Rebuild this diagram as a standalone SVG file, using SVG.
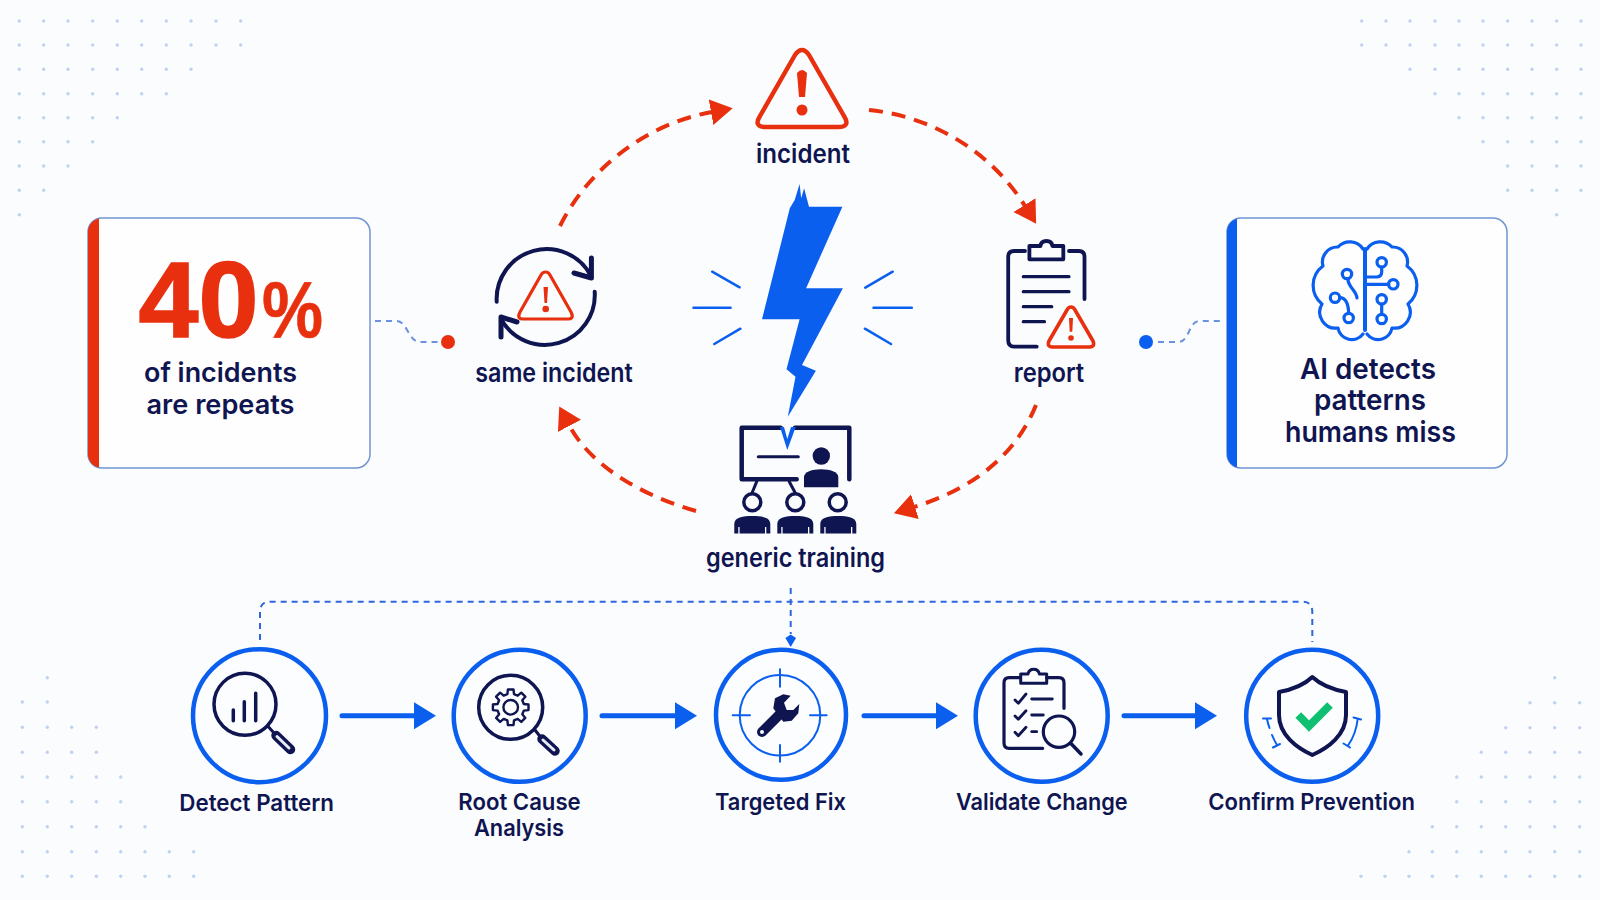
<svg xmlns="http://www.w3.org/2000/svg" xmlns:xlink="http://www.w3.org/1999/xlink" width="1600" height="900" viewBox="0 0 1600 900">
<defs>
<style>
.t{font-family:"Inter","Liberation Sans",sans-serif;font-weight:600;fill:#0f1550;text-anchor:middle}
.ts{font-family:"Inter","Liberation Sans",sans-serif;font-weight:600;fill:#0f1550;text-anchor:start}
.big{font-family:"Liberation Sans",Arial,sans-serif;font-weight:700;fill:#e8300f;stroke:#e8300f}
.n{fill:none;stroke:#0f1550;stroke-linecap:round;stroke-linejoin:round}
.r{fill:none;stroke:#e8300f;stroke-linecap:round;stroke-linejoin:round}
.b{fill:none;stroke:#0b5fef;stroke-linecap:round;stroke-linejoin:round}
.rd{fill:none;stroke:#e8300f;stroke-width:4;stroke-dasharray:14 9}
.bd{fill:none;stroke:#2f66e0;stroke-width:2;stroke-dasharray:6 5}
.bs{fill:none;stroke:#6a92de;stroke-width:2;stroke-dasharray:6 5}
.ring{fill:#fcfdff;stroke:#0b5fef;stroke-width:4.5}
.card{fill:#fefeff;stroke:#6f95d2;stroke-width:1.5}
.flow{fill:none;stroke:#0b5fef;stroke-width:5;stroke-linecap:round}
.dots circle{fill:#c0d2f2}
</style>
<marker id="ah" markerUnits="userSpaceOnUse" markerWidth="24" markerHeight="28" refX="1" refY="14" orient="auto"><path d="M0,1L22,14L0,27Z" fill="#e8300f"/></marker>
<marker id="fh" markerUnits="userSpaceOnUse" markerWidth="24" markerHeight="28" refX="0" refY="14" orient="auto"><path d="M0,0.5L22,14L0,27.5Z" fill="#0b5fef"/></marker>
<g id="gear"><path class="n" stroke-width="2.4" d="M13.1-3.3L17.8-2.8V2.8L13.1,3.3L11.6,7L14.6,10.6L10.6,14.6L7,11.6L3.3,13.1L2.8,17.8H-2.8L-3.3,13.1L-7,11.6L-10.6,14.6L-14.6,10.6L-11.6,7L-13.1,3.3L-17.8,2.8V-2.8L-13.1-3.3L-11.6-7L-14.6-10.6L-10.6-14.6L-7-11.6L-3.3-13.1L-2.8-17.8H2.8L3.3-13.1L7-11.6L10.6-14.6L14.6-10.6L11.6-7Z"/><circle r="7.3" class="n" stroke-width="2.4"/></g>
<path id="learner" d="M-18,17.5V8C-18,1 -9,0 0,0C9,0 18,1 18,8V17.5H14V11H12.700V17.5H-12.700V11H-14V17.5Z" fill="#0f1550"/>
</defs>
<rect width="1600" height="900" fill="#fbfcfe"/>

<g id="bg-dots" class="dots">
<g id="dots-tl">
<circle cx="19.3" cy="21" r="1.7"/><circle cx="43.7" cy="21" r="1.7"/><circle cx="68" cy="21" r="1.7"/><circle cx="92.7" cy="21" r="1.7"/><circle cx="117.3" cy="21" r="1.7"/><circle cx="141.7" cy="21" r="1.7"/><circle cx="166.3" cy="21" r="1.7"/><circle cx="191" cy="21" r="1.7"/><circle cx="216" cy="21" r="1.7"/><circle cx="240.7" cy="21" r="1.7"/>
<circle cx="19.3" cy="45" r="1.7"/><circle cx="43.7" cy="45" r="1.7"/><circle cx="68" cy="45" r="1.7"/><circle cx="92.7" cy="45" r="1.7"/><circle cx="117.3" cy="45" r="1.7"/><circle cx="141.7" cy="45" r="1.7"/><circle cx="166.3" cy="45" r="1.7"/><circle cx="191" cy="45" r="1.7"/><circle cx="216" cy="45" r="1.7"/><circle cx="240.7" cy="45" r="1.7"/>
<circle cx="19.3" cy="69.3" r="1.7"/><circle cx="43.7" cy="69.3" r="1.7"/><circle cx="68" cy="69.3" r="1.7"/><circle cx="92.7" cy="69.3" r="1.7"/><circle cx="117.3" cy="69.3" r="1.7"/><circle cx="141.7" cy="69.3" r="1.7"/><circle cx="166.3" cy="69.3" r="1.7"/><circle cx="191" cy="69.3" r="1.7"/>
<circle cx="19.3" cy="93.7" r="1.7"/><circle cx="43.7" cy="93.7" r="1.7"/><circle cx="68" cy="93.7" r="1.7"/><circle cx="92.7" cy="93.7" r="1.7"/><circle cx="117.3" cy="93.7" r="1.7"/><circle cx="141.7" cy="93.7" r="1.7"/><circle cx="166.3" cy="93.7" r="1.7"/>
<circle cx="19.3" cy="117.7" r="1.7"/><circle cx="43.7" cy="117.7" r="1.7"/><circle cx="68" cy="117.7" r="1.7"/><circle cx="92.7" cy="117.7" r="1.7"/><circle cx="117.3" cy="117.7" r="1.7"/>
<circle cx="19.3" cy="141.7" r="1.7"/><circle cx="43.7" cy="141.7" r="1.7"/><circle cx="68" cy="141.7" r="1.7"/><circle cx="92.7" cy="141.7" r="1.7"/>
<circle cx="19.3" cy="166" r="1.7"/><circle cx="43.7" cy="166" r="1.7"/><circle cx="68" cy="166" r="1.7"/>
<circle cx="19.3" cy="190.3" r="1.7"/><circle cx="43.7" cy="190.3" r="1.7"/>
<circle cx="19.3" cy="214.7" r="1.7"/>
</g>
<g id="dots-tr">
<circle cx="1361.7" cy="21" r="1.7"/><circle cx="1386" cy="21" r="1.7"/><circle cx="1410" cy="21" r="1.7"/><circle cx="1435" cy="21" r="1.7"/><circle cx="1459" cy="21" r="1.7"/><circle cx="1483" cy="21" r="1.7"/><circle cx="1507.7" cy="21" r="1.7"/><circle cx="1532" cy="21" r="1.7"/><circle cx="1556.7" cy="21" r="1.7"/><circle cx="1581" cy="21" r="1.7"/>
<circle cx="1361.7" cy="45" r="1.7"/><circle cx="1386" cy="45" r="1.7"/><circle cx="1410" cy="45" r="1.7"/><circle cx="1435" cy="45" r="1.7"/><circle cx="1459" cy="45" r="1.7"/><circle cx="1483" cy="45" r="1.7"/><circle cx="1507.7" cy="45" r="1.7"/><circle cx="1532" cy="45" r="1.7"/><circle cx="1556.7" cy="45" r="1.7"/><circle cx="1581" cy="45" r="1.7"/>
<circle cx="1410" cy="69.3" r="1.7"/><circle cx="1435" cy="69.3" r="1.7"/><circle cx="1459" cy="69.3" r="1.7"/><circle cx="1483" cy="69.3" r="1.7"/><circle cx="1507.7" cy="69.3" r="1.7"/><circle cx="1532" cy="69.3" r="1.7"/><circle cx="1556.7" cy="69.3" r="1.7"/><circle cx="1581" cy="69.3" r="1.7"/>
<circle cx="1435" cy="93.7" r="1.7"/><circle cx="1459" cy="93.7" r="1.7"/><circle cx="1483" cy="93.7" r="1.7"/><circle cx="1507.7" cy="93.7" r="1.7"/><circle cx="1532" cy="93.7" r="1.7"/><circle cx="1556.7" cy="93.7" r="1.7"/><circle cx="1581" cy="93.7" r="1.7"/>
<circle cx="1459" cy="117.7" r="1.7"/><circle cx="1483" cy="117.7" r="1.7"/><circle cx="1507.7" cy="117.7" r="1.7"/><circle cx="1532" cy="117.7" r="1.7"/><circle cx="1556.7" cy="117.7" r="1.7"/><circle cx="1581" cy="117.7" r="1.7"/>
<circle cx="1483" cy="141.7" r="1.7"/><circle cx="1507.7" cy="141.7" r="1.7"/><circle cx="1532" cy="141.7" r="1.7"/><circle cx="1556.7" cy="141.7" r="1.7"/><circle cx="1581" cy="141.7" r="1.7"/>
<circle cx="1507.7" cy="166" r="1.7"/><circle cx="1532" cy="166" r="1.7"/><circle cx="1556.7" cy="166" r="1.7"/><circle cx="1581" cy="166" r="1.7"/>
<circle cx="1507.7" cy="190.3" r="1.7"/><circle cx="1532" cy="190.3" r="1.7"/><circle cx="1556.7" cy="190.3" r="1.7"/><circle cx="1581" cy="190.3" r="1.7"/>
<circle cx="1556.7" cy="214.7" r="1.7"/>
</g>
<g id="dots-bl">
<circle cx="47.3" cy="677.7" r="1.7"/>
<circle cx="22.3" cy="702" r="1.7"/><circle cx="47.3" cy="702" r="1.7"/>
<circle cx="22.3" cy="727.3" r="1.7"/><circle cx="47.3" cy="727.3" r="1.7"/><circle cx="71.7" cy="727.3" r="1.7"/><circle cx="96.3" cy="727.3" r="1.7"/>
<circle cx="22.3" cy="752.3" r="1.7"/><circle cx="47.3" cy="752.3" r="1.7"/><circle cx="71.7" cy="752.3" r="1.7"/><circle cx="96.3" cy="752.3" r="1.7"/>
<circle cx="22.3" cy="777" r="1.7"/><circle cx="47.3" cy="777" r="1.7"/><circle cx="71.7" cy="777" r="1.7"/><circle cx="96.3" cy="777" r="1.7"/><circle cx="120.7" cy="777" r="1.7"/>
<circle cx="22.3" cy="801.7" r="1.7"/><circle cx="47.3" cy="801.7" r="1.7"/><circle cx="71.7" cy="801.7" r="1.7"/><circle cx="96.3" cy="801.7" r="1.7"/><circle cx="120.7" cy="801.7" r="1.7"/>
<circle cx="22.3" cy="826.7" r="1.7"/><circle cx="47.3" cy="826.7" r="1.7"/><circle cx="71.7" cy="826.7" r="1.7"/><circle cx="96.3" cy="826.7" r="1.7"/><circle cx="120.7" cy="826.7" r="1.7"/><circle cx="145" cy="826.7" r="1.7"/>
<circle cx="22.3" cy="851.7" r="1.7"/><circle cx="47.3" cy="851.7" r="1.7"/><circle cx="71.7" cy="851.7" r="1.7"/><circle cx="96.3" cy="851.7" r="1.7"/><circle cx="120.7" cy="851.7" r="1.7"/><circle cx="145" cy="851.7" r="1.7"/><circle cx="169.3" cy="851.7" r="1.7"/><circle cx="193.7" cy="851.7" r="1.7"/>
<circle cx="22.3" cy="876.3" r="1.7"/><circle cx="47.3" cy="876.3" r="1.7"/><circle cx="71.7" cy="876.3" r="1.7"/><circle cx="96.3" cy="876.3" r="1.7"/><circle cx="120.7" cy="876.3" r="1.7"/><circle cx="145" cy="876.3" r="1.7"/><circle cx="169.3" cy="876.3" r="1.7"/><circle cx="193.7" cy="876.3" r="1.7"/>
</g>
<g id="dots-br">
<circle cx="1554.7" cy="677.7" r="1.7"/>
<circle cx="1530" cy="702.7" r="1.7"/><circle cx="1554.7" cy="702.7" r="1.7"/><circle cx="1579.7" cy="702.7" r="1.7"/>
<circle cx="1505.7" cy="727.7" r="1.7"/><circle cx="1530" cy="727.7" r="1.7"/><circle cx="1554.7" cy="727.7" r="1.7"/><circle cx="1579.7" cy="727.7" r="1.7"/>
<circle cx="1481.3" cy="752.3" r="1.7"/><circle cx="1505.7" cy="752.3" r="1.7"/><circle cx="1530" cy="752.3" r="1.7"/><circle cx="1554.7" cy="752.3" r="1.7"/><circle cx="1579.7" cy="752.3" r="1.7"/>
<circle cx="1456.7" cy="777" r="1.7"/><circle cx="1481.3" cy="777" r="1.7"/><circle cx="1505.7" cy="777" r="1.7"/><circle cx="1530" cy="777" r="1.7"/><circle cx="1554.7" cy="777" r="1.7"/><circle cx="1579.7" cy="777" r="1.7"/>
<circle cx="1456.7" cy="801.7" r="1.7"/><circle cx="1481.3" cy="801.7" r="1.7"/><circle cx="1505.7" cy="801.7" r="1.7"/><circle cx="1530" cy="801.7" r="1.7"/><circle cx="1554.7" cy="801.7" r="1.7"/><circle cx="1579.7" cy="801.7" r="1.7"/>
<circle cx="1432.3" cy="826.7" r="1.7"/><circle cx="1456.7" cy="826.7" r="1.7"/><circle cx="1481.3" cy="826.7" r="1.7"/><circle cx="1505.7" cy="826.7" r="1.7"/><circle cx="1530" cy="826.7" r="1.7"/><circle cx="1554.7" cy="826.7" r="1.7"/><circle cx="1579.7" cy="826.7" r="1.7"/>
<circle cx="1409" cy="851.7" r="1.7"/><circle cx="1432.3" cy="851.7" r="1.7"/><circle cx="1456.7" cy="851.7" r="1.7"/><circle cx="1481.3" cy="851.7" r="1.7"/><circle cx="1505.7" cy="851.7" r="1.7"/><circle cx="1530" cy="851.7" r="1.7"/><circle cx="1554.7" cy="851.7" r="1.7"/><circle cx="1579.7" cy="851.7" r="1.7"/>
<circle cx="1361" cy="876.3" r="1.7"/><circle cx="1385" cy="876.3" r="1.7"/><circle cx="1409" cy="876.3" r="1.7"/><circle cx="1432.3" cy="876.3" r="1.7"/><circle cx="1456.7" cy="876.3" r="1.7"/><circle cx="1481.3" cy="876.3" r="1.7"/><circle cx="1505.7" cy="876.3" r="1.7"/><circle cx="1530" cy="876.3" r="1.7"/><circle cx="1554.7" cy="876.3" r="1.7"/><circle cx="1579.7" cy="876.3" r="1.7"/>
</g>
</g>

<g id="connectors">
<path class="rd" d="M560,226C585,175 640,125 712,112" marker-end="url(#ah)"/>
<path class="rd" d="M869,110C930,116 990,150 1025,206" marker-end="url(#ah)"/>
<path class="rd" d="M1036,405C1020,445 985,485 914,507" marker-end="url(#ah)"/>
<path class="rd" d="M696,511C640,495 590,465 569,425" marker-end="url(#ah)"/>
<path class="bs" d="M375,321H396C408,321 408,342 420,342H440"/>
<path class="bs" d="M1158,342H1178C1190,342 1188,321 1200,321H1222"/>
<path class="bd" d="M260,640V612Q260,601.7 270,601.7H1302Q1312.3,601.7 1312.3,612V642"/>
<path class="bd" d="M790.7,588V634"/>
<path d="M790.7,634.500L796,638L790.700,647L785.400,638Z" fill="#0b5fef"/>
<path class="flow" d="M342,715.7H414" marker-end="url(#fh)"/>
<path class="flow" d="M602,715.7H675" marker-end="url(#fh)"/>
<path class="flow" d="M864,715.7H936" marker-end="url(#fh)"/>
<path class="flow" d="M1124,715.7H1195" marker-end="url(#fh)"/>
<circle cx="448" cy="342" r="7" fill="#e8300f"/>
<circle cx="1146" cy="342" r="7" fill="#0b5fef"/>
</g>

<g id="card-stat">
<rect class="card" x="88" y="218" width="282" height="250" rx="14"/>
<path d="M99,218.5V467.5H101C93,467.5 88,461 88,454V232C88,225 93,218.5 101,218.5Z" fill="#e8300f"/>
<text class="big" stroke-width="1.5"><tspan x="138.500" y="337" font-size="108" textLength="120" lengthAdjust="spacingAndGlyphs">40</tspan><tspan x="262" y="337" font-size="80" stroke-width="0.6" textLength="61" lengthAdjust="spacingAndGlyphs">%</tspan></text>
<text class="ts" font-size="27">
<tspan x="144" y="382" textLength="153" lengthAdjust="spacingAndGlyphs">of incidents</tspan>
<tspan x="146.500" y="414" textLength="148" lengthAdjust="spacingAndGlyphs">are repeats</tspan></text>
</g>

<g id="card-ai">
<rect class="card" x="1227" y="218" width="280" height="250" rx="14"/>
<path d="M1237,218.5V467.5H1240C1232,467.5 1227,461 1227,454V232C1227,225 1232,218.5 1240,218.5Z" fill="#0b5fef"/>
<g class="b" stroke-width="3.2">
<path d="M1363,249A16,16 0 0 0 1338,247A15,15 0 0 0 1323,266A24,24 0 0 0 1322,304A16,16 0 0 0 1338,328A14,14 0 0 0 1363,334"/>
<path d="M1367,249A16,16 0 0 1 1392,247A15,15 0 0 1 1407,266A24,24 0 0 1 1408,304A16,16 0 0 1 1392,328A14,14 0 0 1 1367,334"/>
<path d="M1365,249V330" stroke-width="4"/>
<circle cx="1347" cy="274" r="4.7"/><path d="M1348,280C1349,288 1356,290 1357,298"/>
<circle cx="1335" cy="297.7" r="4.7"/><path d="M1340,297.700Q1348,298 1348.700,313"/><circle cx="1348.700" cy="318" r="4.7"/>
<circle cx="1381.700" cy="262.300" r="4.7"/><path d="M1381.700,267V272Q1381.700,277 1376,277H1365"/>
<circle cx="1393.300" cy="284.300" r="4.7"/><path d="M1365,284.300H1388.600"/>
<circle cx="1381.700" cy="299.300" r="4.7"/><circle cx="1381.700" cy="319" r="4.7"/><path d="M1381.700,304V314.300"/>
</g>
<text class="ts" font-size="29">
<tspan x="1300" y="379" textLength="136" lengthAdjust="spacingAndGlyphs">AI detects</tspan>
<tspan x="1314" y="410" textLength="112" lengthAdjust="spacingAndGlyphs">patterns</tspan>
<tspan x="1285" y="442" textLength="171" lengthAdjust="spacingAndGlyphs">humans miss</tspan></text>
</g>

<g id="bolt">
<path d="M789.800,208.300L794.700,200L799.600,184L801.200,198.300L804.100,188.300L809,206.700H842.400L806.100,288.300H842.900L802,365L815.900,370.700L787.800,416.700L795.500,376.700L786.500,369.300L799.600,319.300H762Z" fill="#0b5fef"/>
<g class="b" stroke-width="2.5">
<path d="M712.200,271.700L739.600,287.300M693.500,307.700H730.600M714.300,344L740.400,328.700M892.700,271.700L865.300,287.700M873.500,307.700H911.800M864.900,328.700L891,344"/>
</g>
</g>

<g id="node-incident">
<path class="r" stroke-width="4.5" d="M795,55Q802,45 809,55L844,116Q851,127 838,127H766Q753,127 760,116Z"/>
<path d="M797,73Q802,67 807,73L805,97H799Z" fill="#e8300f"/>
<circle cx="802" cy="110" r="5.500" fill="#e8300f"/>
<text x="803" y="163" font-size="26" class="t" textLength="94" lengthAdjust="spacingAndGlyphs">incident</text>
</g>

<g id="node-same">
<path class="n" stroke-width="4" d="M496.700,301.700A50,50 0 0 1 591,276"/>
<path class="n" stroke-width="4" d="M594.700,291.700A50,50 0 0 1 501,319"/>
<path class="n" stroke-width="5" d="M591.400,258V278L574,273M501,337V317L517,322"/>
<path class="r" stroke-width="3.2" d="M545.700,272C548,272 549,273 550,275L571,312C574,318 571,319 568,319H523C520,319 517,318 520,312L541,275C542,273 543,272 545.700,272Z"/>
<path d="M543.500,287H548L547,303H544.500Z" fill="#e8300f"/>
<circle cx="545.700" cy="309" r="3.3" fill="#e8300f"/>
<text x="554" y="382" font-size="26" class="t" textLength="157.500" lengthAdjust="spacingAndGlyphs">same incident</text>
</g>

<g id="node-report">
<path class="n" stroke-width="3.8" d="M1025,251H1014Q1008.200,251 1008.200,257V340Q1008.200,346.700 1014,346.700H1036.700"/>
<path class="n" stroke-width="3.8" d="M1069,251H1079Q1084.500,251 1084.500,257V299"/>
<path class="n" stroke-width="3.8" d="M1029.400,246H1040.500Q1041,241 1046.400,241Q1052,241 1052.300,246H1063.300V259.300H1029.400Z"/>
<path class="n" stroke-width="3.2" d="M1023.300,276.700H1069M1023.300,291.700H1069M1023.300,306.700H1051.800M1023.300,321.700H1044.500"/>
<path class="r" stroke-width="3.6" d="M1071,307C1073,307 1074,308 1075,310L1093,341C1095,346 1092,347 1090,347H1052C1050,347 1047,346 1049,341L1067,310C1068,308 1069,307 1071,307Z" fill="#fbfcfe"/>
<path d="M1069,318H1073L1072.300,331.700H1069.700Z" fill="#e8300f"/>
<circle cx="1071" cy="338" r="2.8" fill="#e8300f"/>
<text x="1049" y="382" font-size="26" class="t" textLength="70.500" lengthAdjust="spacingAndGlyphs">report</text>
</g>

<g id="node-training">
<path class="n" stroke-width="4.5" d="M780.700,427.700H741.700V479.300H796.700M795,427.700H849.300V479.300"/>
<path d="M780,427L784,427L787.300,439L791,427L795.700,427L787.300,450Z" fill="#0b5fef"/>
<path class="n" stroke-width="3" d="M758.300,456.700H798.300"/>
<circle cx="821.300" cy="456" r="8.700" fill="#0f1550"/>
<path d="M804,487.300V477C804,472 812,469.300 821,469.300C830,469.300 838.300,472 838.300,477V487.300Z" fill="#0f1550"/>
<path class="n" stroke-width="3" d="M756.700,481.700L752,493M789.300,481.700L795.300,493"/>
<g class="n" stroke-width="3.5"><circle cx="752.300" cy="502.300" r="8.500"/><circle cx="795.300" cy="502.300" r="8.500"/><circle cx="837.700" cy="502.300" r="8.500"/></g>
<use xlink:href="#learner" href="#learner" x="752.300" y="516"/>
<use xlink:href="#learner" href="#learner" x="795.300" y="516"/>
<use xlink:href="#learner" href="#learner" x="838.300" y="516"/>
<text x="795.500" y="566.700" font-size="26" class="t" textLength="179" lengthAdjust="spacingAndGlyphs">generic training</text>
</g>

<g id="step-detect">
<circle class="ring" cx="259.500" cy="715.700" r="66.500"/>
<circle class="n" stroke-width="3.5" cx="245" cy="704.300" r="31"/>
<path class="n" stroke-width="3.5" d="M233.300,710V720.700M244.300,701.700V720.700M255.700,693.300V720.700" stroke-linecap="butt"/>
<path class="n" stroke-width="3" d="M267.700,726L274,733"/>
<path class="n" stroke-width="9.500" d="M276,735.500L290.500,749.500"/>
<path stroke="#e9ebf4" stroke-width="3" stroke-linecap="round" d="M277,736.500L289,748"/>
<text x="256.700" y="810.700" font-size="23" class="t" textLength="154.700" lengthAdjust="spacingAndGlyphs">Detect Pattern</text>
</g>

<g id="step-root">
<circle class="ring" cx="519.700" cy="715.800" r="66"/>
<circle class="n" stroke-width="3.5" cx="510.700" cy="707.300" r="32"/>
<use xlink:href="#gear" href="#gear" x="510.700" y="707.300"/>
<path class="n" stroke-width="3" d="M535,730L540.500,737"/>
<path class="n" stroke-width="9.500" d="M542,739L555,751"/>
<path stroke="#e9ebf4" stroke-width="3" stroke-linecap="round" d="M543,740L554,750"/>
<text x="519.500" y="810" font-size="23" class="t" textLength="122.400" lengthAdjust="spacingAndGlyphs">Root Cause</text>
<text x="519" y="835.700" font-size="23" class="t" textLength="90" lengthAdjust="spacingAndGlyphs">Analysis</text>
</g>

<g id="step-fix">
<circle class="ring" cx="781" cy="714.800" r="65"/>
<circle class="b" stroke-width="2" cx="780" cy="715.300" r="40.300"/>
<path class="b" stroke-width="2" d="M780,669.300V686.700M780,745V761.700M732.700,715.300H750M810,715.300H826.700"/>
<path fill="#0f1550" d="M773.300,708.300L775,698.300L783.300,694.300L790.700,695.700L784,702.700L786.700,710H793.300L799.300,704L798.300,713.300L791.700,720.700L783.300,721.700Z"/>
<path class="n" stroke-width="10" d="M762,732L780,714"/>
<circle cx="762" cy="732" r="2" fill="#fcfdff"/>
<text x="780.500" y="810" font-size="23" class="t" textLength="131" lengthAdjust="spacingAndGlyphs">Targeted Fix</text>
</g>

<g id="step-validate">
<circle class="ring" cx="1041.700" cy="715.800" r="66"/>
<path class="n" stroke-width="3.2" d="M1020,677.700H1009Q1004,677.700 1004,683V743Q1004,748.300 1009,748.300H1042.700M1046.700,677.700H1059Q1064,677.700 1064,683V708.300"/>
<path class="n" stroke-width="3" d="M1020.700,674H1028Q1029,669.300 1033.700,669.300Q1038.400,669.300 1039.400,674H1046.700V683.300H1020.700Z"/>
<path class="n" stroke-width="2.800" d="M1015,700L1018.300,703.300L1026,694M1015,716L1018.300,719.300L1026,710.700M1015,732.300L1018.300,735.700L1026,727.300M1031.700,699H1052.300M1031.700,715H1043.300M1031.700,731.700H1036.700"/>
<circle class="n" stroke-width="3.2" cx="1059" cy="731.700" r="15.700"/>
<path class="n" stroke-width="3.5" d="M1070.700,743.300L1081,754"/>
<text x="1041.800" y="810" font-size="23" class="t" textLength="171.700" lengthAdjust="spacingAndGlyphs">Validate Change</text>
</g>

<g id="step-confirm">
<circle class="ring" cx="1312.200" cy="715.800" r="66"/>
<path class="n" stroke-width="4" d="M1312.300,677C1303,686 1290,690 1279,692V715C1279,735 1297,748 1312.300,755C1328,748 1346,735 1346,715V692C1335,690 1322,686 1312.300,677Z"/>
<path d="M1298.300,715L1309,726L1330,705" fill="none" stroke="#0fc072" stroke-width="8" stroke-linejoin="miter"/>
<path class="b" stroke-width="2" d="M1263,718.500H1271M1267,719Q1268,724 1269.500,728M1272,735Q1274,740 1277,745M1273,747.500L1280,744M1353.500,717.500L1361,719.500M1357.700,719Q1356,734 1348.300,745M1343.500,743.500L1350,747.500"/>
<text x="1311.700" y="810" font-size="23" class="t" textLength="206.700" lengthAdjust="spacingAndGlyphs">Confirm Prevention</text>
</g>
</svg>
